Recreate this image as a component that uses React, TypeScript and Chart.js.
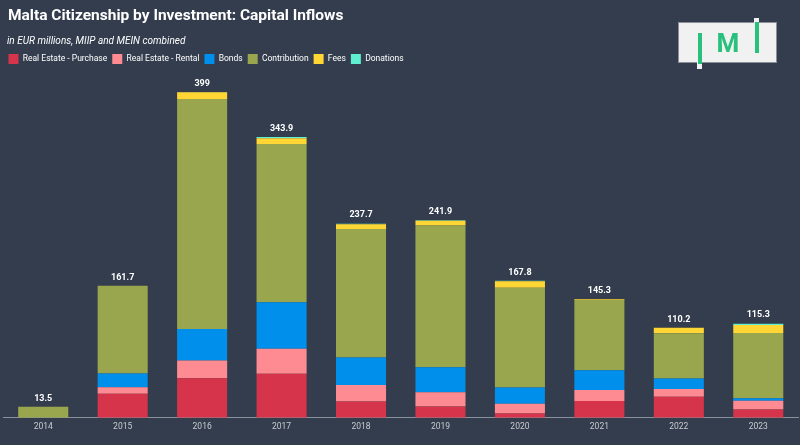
import React, { useEffect, useRef } from "react";
import { Chart, registerables } from "chart.js";

Chart.register(...registerables);

const years = ["2014", "2015", "2016", "2017", "2018", "2019", "2020", "2021", "2022", "2023"];
const realEstatePurchase = [0, 29.6, 48.4, 53.8, 20.1, 13.9, 5.3, 20.6, 25.9, 10.3];
const realEstateRental = [0, 7.7, 21.8, 30.8, 20.2, 17.3, 11.9, 13.5, 9.4, 10.6];
const bonds = [0, 16.9, 38.5, 57.0, 33.6, 30.8, 19.8, 24.2, 12.7, 2.9];
const contribution = [13.5, 107.5, 281.8, 193.8, 157.3, 173.6, 122.3, 85.8, 55.4, 80.0];
const fees = [0, 0, 8.0, 7.0, 5.7, 5.8, 7.9, 1.2, 6.8, 9.9];
const donations = [0, 0, 0.5, 1.5, 0.8, 0.5, 0.6, 0, 0, 1.6];

const BG = "#333d4d";
const FONT = "Roboto, 'Noto Sans', sans-serif";

const totalsPlugin = {
  id: "totals",
  afterDatasetsDraw(chart: any) {
    const { ctx, scales } = chart;
    const n = chart.data.labels.length;
    const lastMeta = chart.getDatasetMeta(chart.data.datasets.length - 1);
    ctx.save();
    ctx.font = `bold 9px ${FONT}`;
    ctx.fillStyle = "#ffffff";
    ctx.textAlign = "center";
    ctx.textBaseline = "bottom";
    for (let i = 0; i < n; i++) {
      let sum = 0;
      chart.data.datasets.forEach((ds: any) => (sum += ds.data[i]));
      sum = Math.round(sum * 10) / 10;
      const x = lastMeta.data[i].x;
      const y = scales.y.getPixelForValue(sum);
      ctx.fillText(String(sum), x, y - 4);
    }
    ctx.restore();
  },
};

export default function App() {
  const ref = useRef<HTMLCanvasElement>(null);
  useEffect(() => {
    const mk = (label: string, data: number[], color: string) => ({
      label,
      data,
      backgroundColor: color,
      borderWidth: 0,
      barPercentage: 0.63,
      categoryPercentage: 1,
    });
    const chart = new Chart(ref.current!, {
      type: "bar",
      data: {
        labels: years,
        datasets: [
          mk("Real Estate - Purchase", realEstatePurchase, "#d6344a"),
          mk("Real Estate - Rental", realEstateRental, "#ff8b92"),
          mk("Bonds", bonds, "#008fea"),
          mk("Contribution", contribution, "#9aa64e"),
          mk("Fees", fees, "#ffd633"),
          mk("Donations", donations, "#5ef0d0"),
        ],
      },
      options: {
        animation: false,
        responsive: false,
        maintainAspectRatio: false,
        layout: { padding: { top: 49, left: 3.5, right: 2, bottom: 9 } },
        plugins: {
          legend: {
            position: "top",
            align: "start",
            labels: {
              color: "#ffffff",
              boxWidth: 10,
              boxHeight: 10,
              padding: 5,
              font: { family: FONT, size: 8.5 },
            },
          },
          tooltip: { enabled: false },
          title: { display: false },
        },
        scales: {
          x: {
            stacked: true,
            grid: { display: false, drawTicks: false, tickLength: 0 },
            border: { display: true, color: "#8a919c", width: 1 },
            ticks: { color: "#c8ccd2", font: { family: FONT, size: 8.5 }, padding: 4 },
          },
          y: {
            stacked: true,
            display: false,
            min: 0,
            max: 421,
          },
        },
      },
      plugins: [totalsPlugin],
    });
    return () => chart.destroy();
  }, []);

  return (
    <div
      style={{
        position: "fixed",
        left: 0,
        top: 0,
        width: 800,
        height: 445,
        background: BG,
        overflow: "hidden",
        fontFamily: FONT,
      }}
    >
      <canvas ref={ref} width={800} height={445} style={{ position: "absolute", left: 0, top: 0 }} />
      <div
        style={{
          position: "absolute",
          left: 8,
          top: 6,
          color: "#ffffff",
          fontWeight: "bold",
          fontSize: 15.5,
          whiteSpace: "nowrap",
        }}
      >
        Malta Citizenship by Investment: Capital Inflows
      </div>
      <div
        style={{
          position: "absolute",
          left: 7,
          top: 35,
          color: "#ffffff",
          fontStyle: "italic",
          fontSize: 10,
          whiteSpace: "nowrap",
        }}
      >
        in EUR millions, MIIP and MEIN combined
      </div>
      <div
        style={{
          position: "absolute",
          left: 678,
          top: 22,
          width: 99,
          height: 41,
          background: "#f1f1f1",
          border: "1px solid #8a8f98",
          boxSizing: "border-box",
        }}
      />
      <div style={{ position: "absolute", left: 697, top: 33, width: 5, height: 36, background: "#f1f1f1" }} />
      <div style={{ position: "absolute", left: 698, top: 33, width: 4, height: 31, background: "#27c07d" }} />
      <div style={{ position: "absolute", left: 754, top: 18, width: 5, height: 36, background: "#f1f1f1" }} />
      <div style={{ position: "absolute", left: 755, top: 22, width: 4, height: 31, background: "#27c07d" }} />
      <div
        style={{
          position: "absolute",
          left: 708,
          top: 26,
          width: 40,
          textAlign: "center",
          color: "#27c07d",
          fontWeight: "bold",
          fontSize: 26,
          lineHeight: "34px",
        }}
      >
        M
      </div>
    </div>
  );
}
